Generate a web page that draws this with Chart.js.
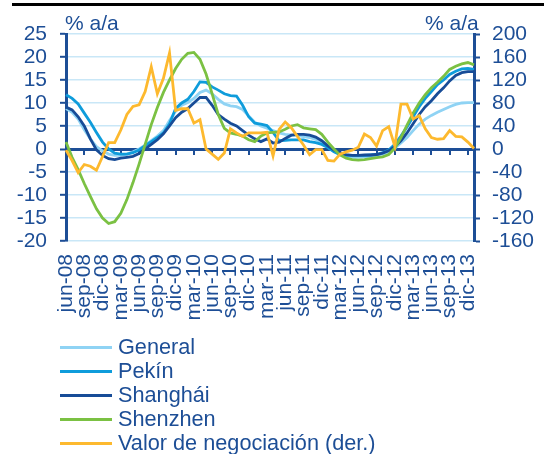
<!DOCTYPE html>
<html>
<head>
<meta charset="utf-8">
<script src="https://cdn.jsdelivr.net/npm/chart.js@4/dist/chart.umd.min.js"></script>
<style>
  html, body { margin: 0; padding: 0; background: #fff; }
  #wrap { position: relative; width: 544px; height: 454px; overflow: hidden;
          font-family: "Liberation Sans", Arial, sans-serif; color: #1D4E96; }
  #c { position: absolute; left: 0; top: 0; }
  .rule { position: absolute; left: 12px; right: 0; top: 3px; height: 3px; background: #000; }
  .unit { position: absolute; top: 11px; font-size: 21px; line-height: 24px; white-space: nowrap; }
  #legend { position: absolute; left: 60px; top: 335px; margin: 0; padding: 0; list-style: none;
            font-size: 21.7px; }
  #legend li { display: flex; align-items: center; height: 24px; white-space: nowrap; }
  #legend .sw { width: 52px; height: 3px; margin-right: 6px; }
</style>
</head>
<body>
<div id="wrap">
  <canvas id="c" width="544" height="454"></canvas>
  <div class="rule"></div>
  <div class="unit" style="left:65px">% a/a</div>
  <div class="unit" style="left:425px">% a/a</div>
  <ul id="legend"></ul>
</div>
<script>
// Monthly categories, jun-08 to ene-14
const categories = [
  'jun-08','jul-08','ago-08','sep-08','oct-08','nov-08','dic-08',
  'ene-09','feb-09','mar-09','abr-09','may-09','jun-09','jul-09','ago-09','sep-09','oct-09','nov-09','dic-09',
  'ene-10','feb-10','mar-10','abr-10','may-10','jun-10','jul-10','ago-10','sep-10','oct-10','nov-10','dic-10',
  'ene-11','feb-11','mar-11','abr-11','may-11','jun-11','jul-11','ago-11','sep-11','oct-11','nov-11','dic-11',
  'ene-12','feb-12','mar-12','abr-12','may-12','jun-12','jul-12','ago-12','sep-12','oct-12','nov-12','dic-12',
  'ene-13','feb-13','mar-13','abr-13','may-13','jun-13','jul-13','ago-13','sep-13','oct-13','nov-13','dic-13',
  'ene-14'
];

// Housing price growth, % y/y (left axis)
const general = [
  8.8, 8.0, 6.5, 4.2, 2.2, 0.5, -0.4, -1.1, -1.4, -1.4, -1.1, -0.6, 0.0, 0.8, 1.8, 2.8, 4.0, 6.2, 8.2, 9.5,
  10.1, 11.0, 12.3, 12.8, 12.0, 10.8, 9.8, 9.4, 9.2, 8.6, 7.2, 5.8, 5.0, 4.5, 4.0, 3.5, 3.2, 3.0, 2.9, 2.7,
  2.5, 2.1, 1.4, 0.4, -0.5, -1.2, -1.6, -1.8, -1.8, -1.7, -1.6, -1.4, -1.1, -0.7, 0.2, 1.3, 2.5, 4.0, 5.4, 6.5,
  7.3, 8.0, 8.6, 9.2, 9.7, 10.0, 10.1, 10.1
];
const pekin = [
  11.8, 11.0, 9.8, 7.8, 5.8, 3.6, 1.5, 0.0, -0.9, -1.1, -1.1, -0.8, -0.2, 0.7, 1.6, 2.5, 3.5, 5.5, 8.8, 10.0,
  10.8, 12.5, 14.6, 14.5, 13.5, 12.8, 12.0, 11.6, 11.5, 9.5, 7.0, 5.6, 5.4, 5.1, 3.6, 1.8, 1.9, 2.0, 2.0, 2.0,
  1.6, 1.4, 1.0, 0.3, -0.6, -1.2, -1.4, -1.4, -1.4, -1.4, -1.3, -1.2, -0.8, -0.2, 1.0, 2.8, 4.8, 7.0, 9.2, 11.0,
  12.5, 14.0, 15.0, 16.2, 16.9, 17.4, 17.5, 17.3
];
const shanghai = [
  9.1, 8.5, 7.0, 5.0, 2.2, -0.2, -1.4, -2.1, -2.3, -2.0, -1.8, -1.6, -1.0, 0.0, 1.0, 2.0, 3.3, 5.0, 6.8, 8.0,
  8.8, 10.0, 11.2, 11.2, 9.5, 7.5, 6.5, 5.6, 5.0, 4.0, 3.0, 2.2, 1.6, 2.2, 1.3, 1.5, 2.3, 3.0, 3.2, 3.2,
  3.0, 2.6, 1.8, 0.7, -0.2, -0.8, -1.2, -1.4, -1.4, -1.3, -1.3, -1.2, -0.9, -0.4, 0.5, 1.8, 3.5, 5.5, 7.5, 9.2,
  10.5, 12.0, 13.3, 14.8, 16.0, 16.6, 16.8, 16.8
];
const shenzhen = [
  1.5, -1.8, -4.5, -7.5, -10.3, -13.0, -15.0, -16.2, -15.8, -14.0, -11.0, -7.3, -3.3, 1.0, 5.3, 9.0, 12.3, 15.0, 17.5, 19.5,
  20.8, 21.0, 19.5, 16.3, 12.0, 7.5, 4.5, 3.5, 3.2, 2.8, 2.0, 1.6, 2.8, 3.5, 3.6, 3.7, 4.3, 5.0, 5.3, 4.6,
  4.4, 4.2, 3.2, 1.5, 0.0, -1.3, -2.0, -2.3, -2.4, -2.3, -2.1, -1.9, -1.7, -1.2, 0.2, 2.5, 5.2, 7.8, 10.0, 11.8,
  13.3, 14.5, 15.8, 17.3, 18.0, 18.5, 18.8, 18.3
];
// Transaction value, % y/y (right axis)
const valorNegociacion = [
  -2, -20, -41, -27, -30, -37, -13, 11, 11, 33, 60, 74, 77, 100, 143, 96, 123, 167, 67, 70,
  70, 45, 51, 0, -9, -18, -7, 35, 28, 22, 28, 28, 28, 29, -12, 34, 47, 37, 22, 7,
  -10, -1, -1, -20, -21, -9, -5, -2, 3, 26, 20, 5, 32, 39, 5, 78, 78, 52, 58, 35,
  20, 17, 18, 32, 22, 21, 12, 1
];

const leftTicks = { min: -20, max: 25, step: 5 };
const rightTicks = { min: -160, max: 200, step: 40 };

const AXIS = '#1D4E96';
const GRID = '#C9E7F7';
const FONT = { family: '"Liberation Sans", Arial, sans-serif', size: 21 };

const series = [
  { label: 'General', data: general, color: '#8FD3F4', axis: 'y', order: 4 },
  { label: 'Pekín', data: pekin, color: '#0E9CDB', axis: 'y', order: 3 },
  { label: 'Shanghái', data: shanghai, color: '#174C97', axis: 'y', order: 2 },
  { label: 'Shenzhen', data: shenzhen, color: '#7BC143', axis: 'y', order: 1 },
  { label: 'Valor de negociación (der.)', data: valorNegociacion, color: '#FDB92E', axis: 'y1', order: 0 }
];

// Small tick marks hanging from the zero line, one every quarter
const zeroLineTicks = {
  id: 'zeroLineTicks',
  beforeDatasetsDraw(chart) {
    const { ctx, scales } = chart;
    const y0 = scales.y.getPixelForValue(0);
    ctx.save();
    ctx.strokeStyle = AXIS;
    ctx.lineWidth = 2;
    for (let i = 3; i < categories.length; i += 3) {
      const px = Math.round(scales.x.getPixelForValue(i));
      ctx.beginPath();
      ctx.moveTo(px, y0);
      ctx.lineTo(px, y0 + 6);
      ctx.stroke();
    }
    ctx.restore();
  }
};

const chart = new Chart(document.getElementById('c'), {
  type: 'line',
  data: {
    labels: categories,
    datasets: series.map(s => ({
      label: s.label,
      data: s.data,
      yAxisID: s.axis,
      order: s.order,
      borderColor: s.color,
      backgroundColor: s.color,
      borderWidth: 2.8,
      pointRadius: 0,
      tension: 0,
      fill: false
    }))
  },
  options: {
    responsive: false,
    animation: false,
    devicePixelRatio: 1,
    layout: { padding: { top: 34, left: 0, right: 0, bottom: 0 } },
    plugins: { legend: { display: false }, tooltip: { enabled: false }, title: { display: false } },
    scales: {
      x: {
        type: 'category',
        grid: { display: false, drawTicks: false },
        border: { display: false },
        ticks: {
          autoSkip: false,
          minRotation: 90,
          maxRotation: 90,
          padding: 13,
          color: AXIS,
          font: FONT,
          callback: (v, i) => (i % 3 === 0 && i <= 66) ? categories[i] : ''
        },
        afterFit: s => { s.height = 454 - 241; }
      },
      y: {
        position: 'left',
        min: leftTicks.min,
        max: leftTicks.max,
        ticks: { stepSize: leftTicks.step, autoSkip: false, color: AXIS, font: FONT, padding: 13 },
        grid: {
          color: c => c.tick && c.tick.value === 0 ? AXIS : GRID,
          lineWidth: c => c.tick && c.tick.value === 0 ? 3 : 1.6,
          tickColor: AXIS,
          tickLength: 6,
          tickWidth: 2
        },
        border: { display: true, color: AXIS, width: 3 },
        afterFit: s => { s.width = 66; }
      },
      y1: {
        position: 'right',
        min: rightTicks.min,
        max: rightTicks.max,
        ticks: { stepSize: rightTicks.step, autoSkip: false, crossAlign: 'near', color: AXIS, font: FONT, padding: 12 },
        grid: { drawOnChartArea: false, drawTicks: true, tickColor: AXIS, tickLength: 6, tickWidth: 2 },
        border: { display: true, color: AXIS, width: 3 },
        afterFit: s => { s.width = 544 - 474; }
      }
    }
  },
  plugins: [zeroLineTicks]
});

// Legend listing the series top to bottom
const legend = document.getElementById('legend');
chart.data.datasets.forEach(ds => {
  const li = document.createElement('li');
  const sw = document.createElement('span');
  sw.className = 'sw';
  sw.style.background = ds.borderColor;
  const tx = document.createElement('span');
  tx.textContent = ds.label;
  li.appendChild(sw);
  li.appendChild(tx);
  legend.appendChild(li);
});
</script>
</body>
</html>
